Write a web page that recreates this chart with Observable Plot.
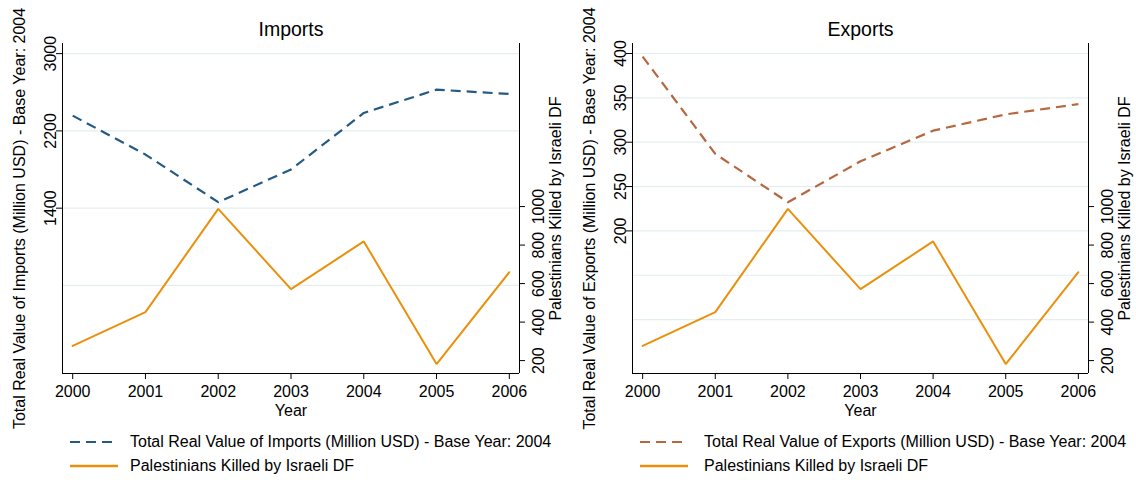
<!DOCTYPE html>
<html><head><meta charset="utf-8">
<script src="https://cdn.jsdelivr.net/npm/d3@7"></script>
<script src="https://cdn.jsdelivr.net/npm/@observablehq/plot@0.6"></script>
<style>
body{margin:0;background:#fff;font-family:"Liberation Sans",Arial,sans-serif;color:#000;}
#wrap{display:flex;width:1136px;height:480px;overflow:hidden;}
.panel{width:568px;height:480px;position:relative;}
.panel > svg{display:block;}
.legend{font-size:16px;margin-top:6px;}
.row{display:flex;align-items:center;height:24px;white-space:nowrap;}
.row svg{display:block;flex:none;}
</style></head><body><div id="wrap"></div>
<script>
// ---- data ----
const years = [2000, 2001, 2002, 2003, 2004, 2005, 2006];
const importsValues = [2358, 1955, 1462, 1800, 2386, 2627, 2582];
const exportsValues = [396.6, 286.8, 232.3, 278.5, 313, 331.4, 343];
const killedValues = [276, 452, 988, 571, 819, 182, 659];

const importTicks = [1400, 2200, 3000];
const importGrid = [600, 1400, 2200, 3000];
const exportTicks = [200, 250, 300, 350, 400];
const exportGrid = [100, 150, 200, 250, 300, 350, 400];
const killedTicks = [200, 400, 600, 800, 1000];

const panelTitles = ["Imports", "Exports"];
const leftTitles = [
  "Total Real Value of Imports (Million USD) - Base Year: 2004",
  "Total Real Value of Exports (Million USD) - Base Year: 2004"
];
const rightTitle = "Palestinians Killed by Israeli DF";
const xTitle = "Year";

// ---- style ----
const orange = "#e9900c";
const blue = "#245a84";
const brown = "#b5673f";
const gridColor = "#e4eef0";
const xDomain = [1999.86, 2006.14];
const killedDomain = [133, 1847];

function panel({title, values, yDomain, ticks, grid, color, yTitle, marginLeft, marginRight, legPad, legGap}) {
  const toP = k => yDomain[0] + (k - killedDomain[0]) * (yDomain[1] - yDomain[0]) / (killedDomain[1] - killedDomain[0]);
  const fromP = v => killedDomain[0] + (v - yDomain[0]) * (killedDomain[1] - killedDomain[0]) / (yDomain[1] - yDomain[0]);
  const rows = years.map((year, i) => ({year, value: values[i], killed: killedValues[i], killedP: toP(killedValues[i])}));
  const svg = Plot.plot({
    width: 568, height: 424,
    marginLeft, marginRight, marginTop: 43, marginBottom: 51,
    style: {fontFamily: "Liberation Sans, Arial, sans-serif", fontSize: "16px", color: "#000", background: "#fff", overflow: "visible"},
    x: {domain: xDomain, axis: null},
    y: {domain: yDomain, axis: null},
    marks: [
      Plot.gridY(grid, {stroke: gridColor, strokeOpacity: 1, strokeWidth: 1.2}),
      Plot.ruleY([yDomain[0]], {stroke: "#000", strokeWidth: 1}),
      Plot.ruleX(xDomain, {stroke: "#000", strokeWidth: 1}),
      Plot.axisX(years, {anchor: "bottom", tickSize: 6, tickPadding: 6, tickFormat: d => String(d), label: null}),
      Plot.axisY(ticks, {anchor: "left", tickSize: 6, tickPadding: 1, tickRotate: -90, textAnchor: "middle", lineAnchor: "bottom", tickFormat: d => String(d), label: null}),
      Plot.axisY(killedTicks.map(toP), {anchor: "right", tickSize: 5, tickPadding: 8, tickRotate: -90, textAnchor: "middle", lineAnchor: "top", tickFormat: v => String(Math.round(fromP(v))), label: null}),
      Plot.line(rows, {x: "year", y: "value", stroke: color, strokeWidth: 2.2, strokeDasharray: "10,6", strokeLinecap: "butt", strokeLinejoin: "miter"}),
      Plot.line(rows, {x: "year", y: "killedP", stroke: orange, strokeWidth: 2, strokeLinejoin: "miter"}),
      Plot.text([title], {text: d => d, frameAnchor: "top", dy: -8, lineAnchor: "bottom", fontSize: 19.5}),
      Plot.text([xTitle], {text: d => d, frameAnchor: "bottom", dy: 42, lineAnchor: "bottom"}),
      Plot.text([yTitle], {text: d => d, frameAnchor: "left", rotate: -90, dx: -38, dy: 10, lineAnchor: "bottom", textAnchor: "middle"}),
      Plot.text([rightTitle], {text: d => d, frameAnchor: "right", rotate: -90, dx: 30, lineAnchor: "top", textAnchor: "middle"})
    ]
  });
  const div = document.createElement("div");
  div.className = "panel";
  div.appendChild(svg);
  const leg = document.createElement("div");
  leg.className = "legend";
  leg.style.paddingLeft = legPad + "px";
  const entries = [
    {label: yTitle, color, dash: "10,6", w: 2.2},
    {label: rightTitle, color: orange, dash: null, w: 2.4}
  ];
  for (const e of entries) {
    const row = document.createElement("div");
    row.className = "row";
    row.innerHTML = `<svg width="48" height="24"><line x1="0" x2="48" y1="12" y2="12" stroke="${e.color}" stroke-width="${e.w}" ${e.dash ? `stroke-dasharray="${e.dash}"` : ""}/></svg><span style="margin-left:${legGap}px">${e.label}</span>`;
    leg.appendChild(row);
  }
  div.appendChild(leg);
  return div;
}

const wrap = document.getElementById("wrap");
wrap.appendChild(panel({
  title: panelTitles[0], values: importsValues, yDomain: [-312, 3105],
  ticks: importTicks, grid: importGrid, color: blue, yTitle: leftTitles[0],
  marginLeft: 62, marginRight: 49, legPad: 70, legGap: 12
}));
wrap.appendChild(panel({
  title: panelTitles[1], values: exportsValues, yDomain: [39.2, 411.3],
  ticks: exportTicks, grid: exportGrid, color: brown, yTitle: leftTitles[1],
  marginLeft: 64, marginRight: 48, legPad: 72, legGap: 16
}));
</script></body></html>
